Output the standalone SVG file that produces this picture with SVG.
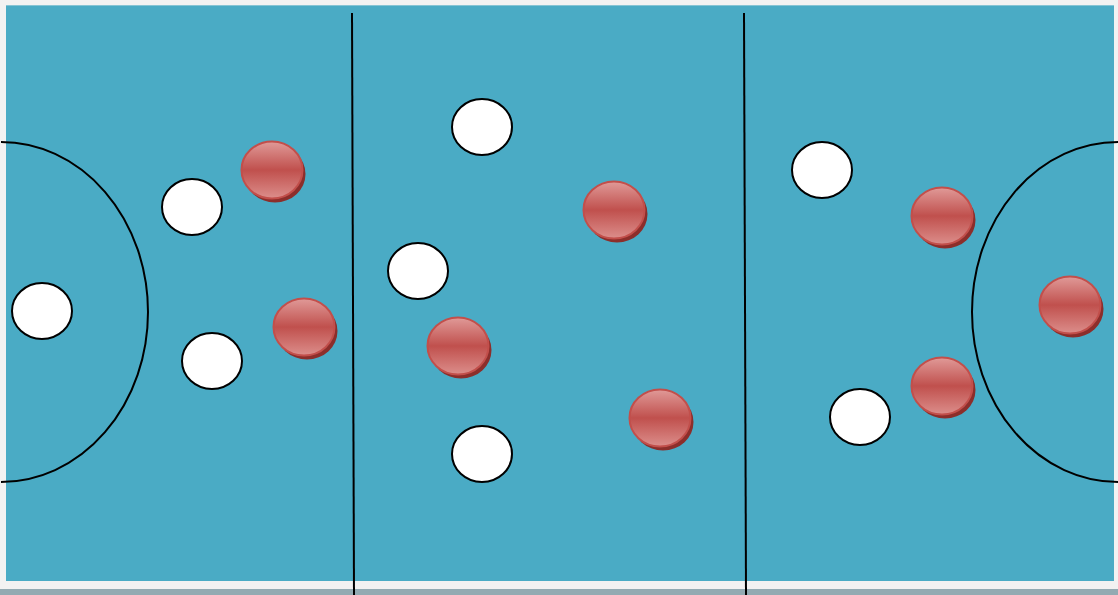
<svg xmlns="http://www.w3.org/2000/svg" width="1118" height="595" viewBox="0 0 1118 595">
<defs>
<linearGradient id="rg" x1="0" y1="0" x2="0" y2="1">
<stop offset="0" stop-color="#e09a98"/>
<stop offset="0.5" stop-color="#c0504d"/>
<stop offset="1" stop-color="#dc8e8b"/>
</linearGradient>
<style>
.w{fill:#ffffff;stroke:#000;stroke-width:2}
.rs{fill:#8c2e2b}
.r{fill:url(#rg);stroke:#c24f4b;stroke-width:2}
.ln{fill:none;stroke:#000;stroke-width:2}
</style>
</defs>
<rect x="0" y="0" width="1118" height="595" fill="#f2f2f2"/>
<rect x="0" y="589" width="1118" height="6" fill="#93aab2"/>
<rect x="6" y="5" width="1108" height="576" fill="#4aabc5"/>
<rect x="6" y="5" width="1108" height="1" fill="#86c4d4"/>
<g id="connectors">
<line class="ln" x1="352" y1="13" x2="354" y2="595"/>
<line class="ln" x1="744" y1="13" x2="746" y2="595"/>
<path class="ln" d="M1,142 A147,170 0 0 1 1,482"/>
<path class="ln" d="M1118,142 A146,170 0 0 0 1118,482"/>
</g>
<g id="w1"><ellipse class="w" cx="42" cy="311" rx="30" ry="28"/></g>
<g id="w2"><ellipse class="w" cx="192" cy="207" rx="30" ry="28"/></g>
<g id="w3"><ellipse class="w" cx="212" cy="361" rx="30" ry="28"/></g>
<g id="w4"><ellipse class="w" cx="482" cy="127" rx="30" ry="28"/></g>
<g id="w5"><ellipse class="w" cx="418" cy="271" rx="30" ry="28"/></g>
<g id="w6"><ellipse class="w" cx="482" cy="454" rx="30" ry="28"/></g>
<g id="w7"><ellipse class="w" cx="822" cy="170" rx="30" ry="28"/></g>
<g id="w8"><ellipse class="w" cx="860" cy="417" rx="30" ry="28"/></g>
<g id="r1"><ellipse class="rs" cx="275" cy="174" rx="30.5" ry="28.5"/><ellipse class="r" cx="272" cy="170" rx="30.5" ry="28.5"/></g>
<g id="r2"><ellipse class="rs" cx="307" cy="331" rx="30.5" ry="28.5"/><ellipse class="r" cx="304" cy="327" rx="30.5" ry="28.5"/></g>
<g id="r3"><ellipse class="rs" cx="617" cy="214" rx="30.5" ry="28.5"/><ellipse class="r" cx="614" cy="210" rx="30.5" ry="28.5"/></g>
<g id="r4"><ellipse class="rs" cx="461" cy="350" rx="30.5" ry="28.5"/><ellipse class="r" cx="458" cy="346" rx="30.5" ry="28.5"/></g>
<g id="r5"><ellipse class="rs" cx="663" cy="422" rx="30.5" ry="28.5"/><ellipse class="r" cx="660" cy="418" rx="30.5" ry="28.5"/></g>
<g id="r6"><ellipse class="rs" cx="945" cy="220" rx="30.5" ry="28.5"/><ellipse class="r" cx="942" cy="216" rx="30.5" ry="28.5"/></g>
<g id="r7"><ellipse class="rs" cx="945" cy="390" rx="30.5" ry="28.5"/><ellipse class="r" cx="942" cy="386" rx="30.5" ry="28.5"/></g>
<g id="r8"><ellipse class="rs" cx="1073" cy="309" rx="30.5" ry="28.5"/><ellipse class="r" cx="1070" cy="305" rx="30.5" ry="28.5"/></g>
</svg>
